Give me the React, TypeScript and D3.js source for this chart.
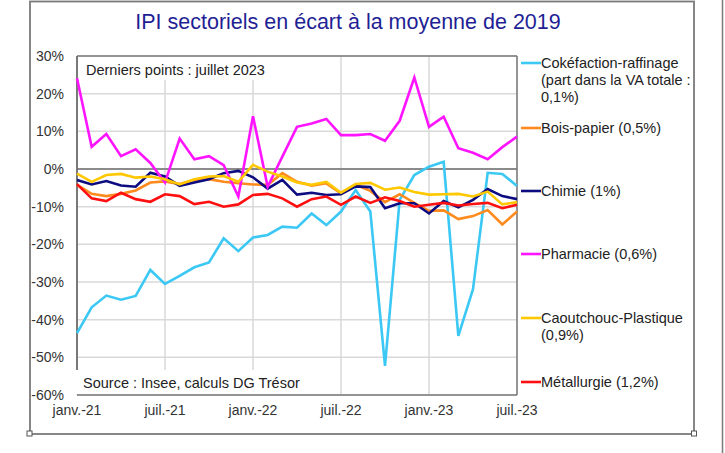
import * as d3 from 'd3';

import {useMemo} from 'react';

const WIDTH = 725;
const HEIGHT = 453;

const MARGIN = {left: 77, right: 517, top: 56, bottom: 395};

const months = d3.range(31);
const xTickIndex = [0, 6, 12, 18, 24, 30];
const xTickLabels = ['janv.-21', 'juil.-21', 'janv.-22', 'juil.-22', 'janv.-23', 'juil.-23'];
const yTicks = [30, 20, 10, 0, -10, -20, -30, -40, -50, -60];

const cokefaction = [-43.6, -36.7, -33.6, -34.7, -33.7, -26.8, -30.5, -28.4, -26.1, -24.8, -18.4, -21.8, -18.2, -17.5, -15.3, -15.6, -11.8, -14.9, -11.3, -5.6, -11.3, -52.3, -8.2, -1.6, 0.6, 1.9, -44.3, -31.9, -1.0, -1.3, -4.5];
const boisPapier = [-4.2, -6.6, -7.2, -6.6, -5.7, -3.6, -3.3, -4, -2.9, -2.7, -3.4, -3.8, -4.1, -4.2, -1.1, -3.4, -4.4, -3.8, -6.5, -4.2, -5.8, -8.8, -6.7, -9, -11.1, -11, -13.3, -12.5, -10.9, -14.7, -11.3];
const chimie = [-2.9, -4.1, -3.2, -4.4, -4.7, -1, -2, -4.5, -3.6, -2.7, -1.1, -0.5, -2.2, -5.2, -2.9, -6.8, -6.3, -6.9, -6.7, -4.6, -4.8, -10.4, -9.1, -9.1, -11.8, -8.5, -10.2, -8.2, -5.3, -7.2, -8];
const pharmacie = [24.1, 5.9, 9.3, 3.4, 5.2, 1.6, -3.6, 8.1, 2.6, 3.4, 1.0, -7.3, 14, -4.7, 3.3, 11.2, 12.1, 13.3, 9, 9, 9.3, 7.5, 12.8, 24.3, 11.2, 13.9, 5.5, 4.3, 2.6, 5.8, 8.6];
const caoutchouc = [-1.2, -3.4, -1.6, -1.3, -2.3, -2, -2.7, -4.1, -2.7, -2, -1.9, -3.4, 1.1, -0.7, -2, -3.6, -4.2, -3.4, -6.3, -4, -3.7, -5.5, -4.9, -6.1, -6.8, -6.7, -6.6, -7.3, -6, -9.4, -8.8];
const metallurgie = [-4, -7.8, -8.5, -6.3, -8, -8.7, -6.7, -7.2, -9.3, -8.7, -10, -9.4, -6.9, -6.6, -7.8, -10, -8, -7.3, -9.5, -7.3, -9, -7.5, -8.5, -10, -9.5, -9, -9.7, -9.3, -9, -10.4, -9.5];

const seriesNames = [
  ['Cokéfaction-raffinage', '(part dans la VA totale :', '0,1%)'],
  ['Bois-papier (0,5%)'],
  ['Chimie (1%)'],
  ['Pharmacie (0,6%)'],
  ['Caoutchouc-Plastique', '(0,9%)'],
  ['Métallurgie (1,2%)'],
];
const seriesValues = [cokefaction, boisPapier, chimie, pharmacie, caoutchouc, metallurgie];
const seriesColors = ['#3cc8f4', '#ff8a1e', '#0c0c80', '#ff14ff', '#ffc800', '#ff1010'];
const legendY = [63, 128, 191, 254, 318, 382];

const FONT = 'Arial, "Liberation Sans", sans-serif';

function App() {
  const x = useMemo(() => d3.scaleLinear().domain([0, 30]).range([MARGIN.left, MARGIN.right]), []);
  const y = useMemo(() => d3.scaleLinear().domain([-60, 30]).range([MARGIN.bottom, MARGIN.top]), []);

  const line = useMemo(
    () =>
      d3
        .line<number>()
        .x((_, i) => x(months[i]))
        .y((d) => y(d))
        .curve(d3.curveLinear),
    [x, y],
  );

  return (
    <div style={{position: 'absolute', left: 0, top: 0}}>
      <svg width={WIDTH} height={HEIGHT} viewBox={`0 0 ${WIDTH} ${HEIGHT}`} style={{display: 'block', background: '#fff'}}>
        {/* outer frame */}
        <rect x={30} y={1.5} width={664} height={432.5} fill="none" stroke="#7a7a7a" strokeWidth={1.8} />
        <line x1={722.5} x2={722.5} y1={0} y2={HEIGHT} stroke="#7a7a7a" strokeWidth={1.5} />
        <rect x={27} y={431} width={5} height={5} fill="#fff" stroke="#555" strokeWidth={1} />
        <rect x={691.5} y={431} width={5} height={5} fill="#fff" stroke="#555" strokeWidth={1} />

        <text x={348} y={29} textAnchor="middle" fontFamily={FONT} fontSize={21.5} fill="#1f1f95">
          IPI sectoriels en écart à la moyenne de 2019
        </text>

        {/* grid */}
        {yTicks.map((t) => (
          <line key={`gy${t}`} x1={MARGIN.left} x2={MARGIN.right} y1={y(t)} y2={y(t)} stroke="#d9d9d9" strokeWidth={1.5} />
        ))}
        {xTickIndex.map((t) => (
          <line key={`gx${t}`} x1={x(t)} x2={x(t)} y1={MARGIN.top} y2={MARGIN.bottom} stroke="#d9d9d9" strokeWidth={1.5} />
        ))}

        {/* annotation boxes */}
        <rect x={78} y={57} width={192} height={23} fill="#fff" />
        <rect x={70} y={370} width={240} height={24} fill="#fff" />

        <line x1={MARGIN.left} x2={MARGIN.right} y1={y(0)} y2={y(0)} stroke="#6e6e6e" strokeWidth={1.5} />

        {/* frame of the plot */}
        <line x1={MARGIN.left} x2={MARGIN.right} y1={MARGIN.top} y2={MARGIN.top} stroke="#7a7a7a" strokeWidth={1.5} />
        <line x1={MARGIN.right} x2={MARGIN.right} y1={MARGIN.top} y2={MARGIN.bottom} stroke="#7a7a7a" strokeWidth={1.5} />
        <line x1={MARGIN.left} x2={MARGIN.right} y1={MARGIN.bottom} y2={MARGIN.bottom} stroke="#7a7a7a" strokeWidth={1.5} />
        <line x1={MARGIN.left} x2={MARGIN.left} y1={MARGIN.top} y2={370} stroke="#6e6e6e" strokeWidth={1.8} />

        {/* series */}
        {seriesValues.map((vals, i) => (
          <path key={i} d={line(vals)!} fill="none" stroke={seriesColors[i]} strokeWidth={2.6} strokeLinejoin="miter" />
        ))}

        <text x={86} y={74.5} fontFamily={FONT} fontSize={14.5} fill="#222">
          Derniers points : juillet 2023
        </text>
        <text x={83} y={388} fontFamily={FONT} fontSize={14.5} fill="#222">
          Source : Insee, calculs DG Trésor
        </text>

        {/* y axis labels */}
        {yTicks.map((t) => (
          <text key={`ty${t}`} x={64} y={y(t) + 5} textAnchor="end" fontFamily={FONT} fontSize={14} fill="#333">
            {`${t}%`}
          </text>
        ))}
        {/* x axis labels */}
        {xTickIndex.map((t, i) => (
          <text key={`tx${t}`} x={x(t)} y={415} textAnchor="middle" fontFamily={FONT} fontSize={14} fill="#333">
            {xTickLabels[i]}
          </text>
        ))}

        {/* legend */}
        {seriesNames.map((names, i) => (
          <g key={`lg${i}`}>
            <line x1={521} x2={541} y1={legendY[i]} y2={legendY[i]} stroke={seriesColors[i]} strokeWidth={2.6} />
            {names.map((n, j) => (
              <text key={j} x={541} y={legendY[i] + 5 + j * 17} fontFamily={FONT} fontSize={14.5} fill="#222">
                {n}
              </text>
            ))}
          </g>
        ))}
      </svg>
    </div>
  );
}

export default App;
